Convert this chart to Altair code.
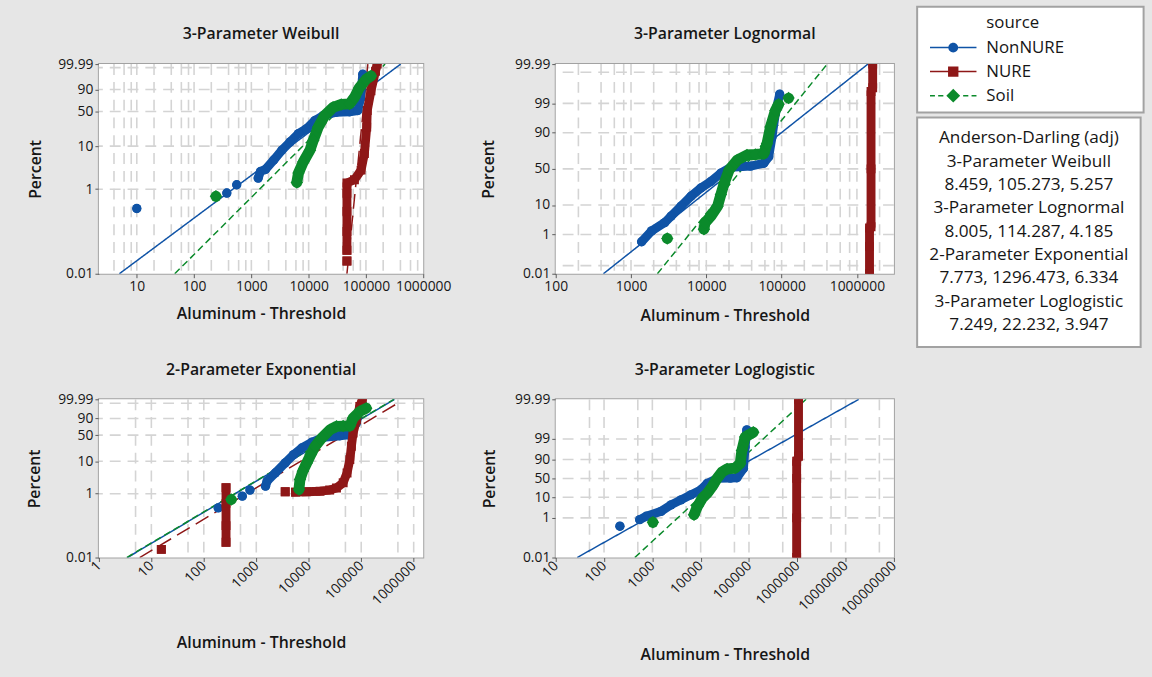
import math
from statistics import NormalDist

import altair as alt
import pandas as pd

FONT = "Open Sans"
TEXT = "#161616"
GRID = "#d4d4d4"
FRAME = "#a2a2a2"

SOURCES = ["NonNURE", "NURE", "Soil"]
SOURCE_COLORS = ["#0f53a6", "#8e1717", "#0b8a2b"]
FIT_DASHES = [[1, 0], [15, 7], [7, 4]]
COLOR_OF = dict(zip(SOURCES, SOURCE_COLORS))
DASH_OF = dict(zip(SOURCES, FIT_DASHES))
MARKERS = {"NonNURE": ("circle", 90), "NURE": ("square", 81), "Soil": ("diamond", 160)}
BAND = {"NonNURE": (9, "round"), "NURE": (9, "square"), "Soil": (11, "round")}

# legend rows: a heading row followed by one row per source
LEGEND_ROWS = ["source"] + SOURCES
LEGEND_COLORS = ["transparent"] + SOURCE_COLORS
# legend glyphs (unit = 5 px): line pieces with the marker in the middle;
# the trailing move-to sets the width of the legend box
_REACH = "M36.7,0"
LEGEND_GLYPHS = [
    _REACH,
    "M-4.7,-0.15H-1V0.15H-4.7Z M1,-0.15H4.7V0.15H1Z "
    "M1,0A1,1,0,1,1,-1,0A1,1,0,1,1,1,0Z " + _REACH,
    "M-4.7,-0.15H-1.05V0.15H-4.7Z M1.05,-0.15H4.7V0.15H1.05Z "
    "M-1.05,-1.05H1.05V1.05H-1.05Z " + _REACH,
    "M-4.7,-0.15H-3.7V0.15H-4.7Z M-3.05,-0.15H-2.0V0.15H-3.05Z "
    "M2.0,-0.15H3.05V0.15H2.0Z M3.7,-0.15H4.7V0.15H3.7Z "
    "M0,-1.4L1.4,0L0,1.4L-1.4,0Z " + _REACH,
]

AD_LINES = [
    "Anderson-Darling (adj)",
    "3-Parameter Weibull", "8.459, 105.273, 5.257",
    "3-Parameter Lognormal", "8.005, 114.287, 4.185",
    "2-Parameter Exponential", "7.773, 1296.473, 6.334",
    "3-Parameter Loglogistic", "7.249, 22.232, 3.947",
]

PCT_TICKS_A = [0.01, 1, 10, 50, 90, 99.99]
PCT_TICKS_B = [0.01, 1, 10, 50, 90, 99, 99.99]

# (value, percent, run) -- points of one run are drawn as a continuous band
W_NONNURE = [
    (10, 0.35, 0), (373, 0.81, 1), (555, 1.27, 2),
    (1315, 1.82, 3), (1442, 2.6, 3), (1758, 2.9, 3), (2455, 4.8, 3), (3420, 8.1, 3),
    (4755, 12.4, 3), (6640, 18.8, 3), (9240, 23.9, 3), (12860, 34.7, 3), (17950, 42.8, 3),
    (30470, 48.7, 3), (51660, 49.6, 3), (72100, 51.9, 3), (80000, 75, 3), (88100, 99.5, 3),
]
W_NURE = [
    (46600, 0.02, 0),
    (46600, 0.036, 1), (46600, 0.1, 1), (46600, 0.3, 1), (46600, 0.8, 1), (46600, 1.4, 1),
    (63000, 1.67, 1), (82300, 2.8, 1), (94000, 6.8, 1), (103300, 25.7, 1), (105500, 51.9, 1),
    (122500, 88.4, 1), (147000, 99.8, 1), (157000, 99.99, 1),
]
W_SOIL = [
    (241, 0.68, 0),
    (6210, 1.44, 1), (6640, 2.4, 1), (8100, 4.4, 1), (10550, 8.1, 1), (12060, 13.5, 1),
    (14700, 25.7, 1), (19100, 42.8, 1), (26700, 58.2, 1), (37100, 64, 1), (51700, 65, 1),
    (63100, 77.7, 1), (77000, 92.3, 1), (100500, 98.2, 1), (122500, 99.2, 1),
]

L_NONNURE = [
    (1383, 0.49, 0), (1870, 1.39, 0), (2800, 2.84, 0), (3410, 4.7, 0), (4620, 9.3, 0),
    (6260, 16.6, 0), (8470, 24.9, 0), (11500, 32.8, 0), (15600, 44, 0), (21100, 52.4, 0),
    (38700, 54, 0), (58000, 57.9, 0), (67400, 66.7, 0), (74600, 87.2, 0), (82600, 97.5, 0),
    (94200, 99.6, 0),
]
L_NURE = [
    (1470000, 0.01, 0), (1470000, 0.3, 0), (1470000, 1.8, 0), (1540000, 2.0, 0),
    (1540000, 50, 0), (1540000, 99.7, 0), (1620000, 99.8, 0), (1620000, 99.99, 0),
]
L_SOIL = [
    (3030, 0.68, 0),
    (9300, 1.62, 1), (9600, 2.8, 1), (11500, 4.7, 1), (14100, 9.3, 1), (15600, 18.1, 1),
    (17300, 30.8, 1), (20100, 48.6, 1), (25800, 62.4, 1), (34700, 68.9, 1), (44700, 69.5, 1),
    (58000, 70.5, 1), (64000, 81.6, 1), (71000, 93.1, 1), (82600, 98.1, 1), (91200, 98.9, 1),
    (123600, 99.4, 2),
]

E_NONNURE = [
    (188, 0.36, 0), (541, 0.84, 1), (757, 1.3, 2),
    (1500, 1.72, 3), (1608, 2.46, 3), (2305, 4.4, 3), (3560, 8.9, 3), (5140, 15.6, 3),
    (7380, 24, 3), (11400, 33.8, 3), (19000, 44.6, 3), (39000, 48.5, 3), (56000, 51, 3),
    (80000, 80, 3), (95000, 99.5, 3),
]
E_NURE = [
    (15.5, 0.018, 0),
    (265, 0.03, 1), (265, 0.1, 1), (265, 0.5, 1), (265, 1.53, 1),
    (3560, 1.15, 2),
    (5600, 1.12, 3), (9000, 1.15, 3), (16400, 1.2, 3), (25000, 1.3, 3), (33800, 1.5, 3),
    (45300, 2.2, 3), (53700, 4.4, 3), (60700, 11.1, 3), (65000, 26.6, 3), (70000, 55.3, 3),
    (81000, 87.7, 3), (93800, 99.6, 3), (105000, 99.99, 3),
]
E_SOIL = [
    (334, 0.66, 0),
    (6500, 1.36, 1), (6800, 2.76, 1), (7710, 5, 1), (9170, 8.9, 1), (10900, 15.6, 1),
    (13200, 26.6, 1), (17600, 43, 1), (25400, 64, 1), (33800, 72.9, 1), (45300, 73.5, 1),
    (60700, 74, 1), (70000, 90.7, 1), (93800, 97.8, 1), (124800, 99.2, 1),
]

G_NONNURE = [
    (213, 0.383, 0),
    (547, 0.816, 1), (750, 1.2, 1), (1520, 2.12, 1), (2430, 4.4, 1), (3900, 7.6, 1),
    (6240, 12.8, 1), (10000, 20.6, 1), (13700, 36, 1), (21900, 50, 1), (41100, 51, 1),
    (56400, 52, 1), (76900, 76, 1), (83200, 97.5, 1), (90100, 99.65, 1),
]
G_NURE = [
    (970000, 0.01, 0), (970000, 1, 0), (970000, 50, 0), (970000, 88, 0),
    (1060000, 93, 0), (1060000, 99.99, 0),
]
G_SOIL = [
    (1028, 0.6, 0),
    (7290, 1.44, 1), (8570, 3.7, 1), (10800, 9.1, 1), (13700, 15.1, 1), (17300, 27.8, 1),
    (21900, 50, 1), (27800, 68, 1), (35200, 75, 1), (52000, 77, 1), (65800, 85, 1),
    (71300, 96.3, 1), (83200, 99.2, 1), (123000, 99.54, 1),
]

# fitted lines: (source, start value, start percent, end value, end percent)
W_FITS = [("NonNURE", 4.97, 0.01, 404000, 99.99), ("NURE", 46600, 0.01, 108000, 99.99),
          ("Soil", 46, 0.01, 216000, 99.99)]
L_FITS = [("NonNURE", 430, 0.01, 1400000, 99.99), ("NURE", 1450000, 0.01, 1600000, 99.99),
          ("Soil", 2240, 0.01, 403000, 99.99)]
E_FITS = [("NonNURE", 3.5, 0.01, 430000, 99.99), ("NURE", 6.0, 0.01, 530000, 99.94),
          ("Soil", 3.4, 0.01, 420000, 99.99)]
G_FITS = [("NonNURE", 27.8, 0.01, 18700000, 99.99), ("NURE", 960000, 0.01, 1080000, 99.99),
          ("Soil", 433, 0.01, 1520000, 99.99)]


# probability-paper transforms of the percent axis
def weibull_paper(p):
    return math.log10(-math.log(1.0 - p / 100.0))


_NORMAL = NormalDist()


def normal_paper(p):
    return _NORMAL.inv_cdf(p / 100.0)


def logistic_paper(p):
    q = p / 100.0
    return math.log(q / (1.0 - q))


def grid_values(lo, hi, mults):
    vals = []
    for k in range(-1, 9):
        for m in mults:
            v = m * 10 ** k
            if lo * 1.02 < v < hi * 0.98:
                vals.append(v)
    return vals


def label_expr(ticks, tf):
    parts = [f"abs(datum.value - ({tf(p):.6f})) < 0.0001 ? '{p:g}'" for p in ticks]
    return " : ".join(parts) + " : ''"


def panel(cfg, extra=()):
    tf = cfg["tf"]
    x_lo, x_hi = cfg["xdomain"]
    y_lo, y_hi = tf(0.01), tf(99.99)
    xs = alt.Scale(type="log", domain=[x_lo, x_hi], nice=False)
    ys = alt.Scale(domain=[y_lo, y_hi], nice=False, zero=False)
    rot = cfg["rotate"]

    xaxis = alt.Axis(
        values=cfg["xticks"], format="d", grid=False, domain=False,
        tickSize=4, tickColor="#5a5a5a", tickWidth=1,
        labelFont=FONT, labelFontSize=14, labelColor=TEXT, labelPadding=2,
        labelFlush=False, labelOverlap=False,
        labelAngle=315 if rot else 0, labelAlign="right" if rot else "center",
        labelBaseline="middle" if rot else "top",
        title="Aluminum - Threshold", titleFont=FONT, titleFontSize=16, titleFontWeight=600,
        titleColor=TEXT, titleY=cfg["xtitle_y"], titleBaseline="middle",
    )
    yaxis = alt.Axis(
        values=[tf(p) for p in cfg["yticks"]], labelExpr=label_expr(cfg["yticks"], tf),
        grid=False, domain=False, tickSize=4, tickColor="#5a5a5a", tickWidth=1,
        labelFont=FONT, labelFontSize=14, labelColor=TEXT, labelPadding=2,
        labelFlush=False, labelOverlap=False,
        title="Percent", titleFont=FONT, titleFontSize=16, titleFontWeight=600,
        titleColor=TEXT, titleX=cfg["ytitle_x"], titleBaseline="middle",
    )

    def xy(xfield, yfield):
        return dict(x=alt.X(xfield, scale=xs, axis=xaxis), y=alt.Y(yfield, scale=ys, axis=yaxis))

    # white plotting area spanning the full scale domains
    area = alt.Chart(pd.DataFrame({"x0": [x_lo], "x1": [x_hi], "y0": [y_lo], "y1": [y_hi]})).mark_rect(
        color="white"
    ).encode(x2="x1:Q", y2="y1:Q", **xy("x0:Q", "y0:Q"))

    gx = grid_values(x_lo, x_hi, cfg["xgrid"])
    vgrid = alt.Chart(pd.DataFrame({"gx": gx})).mark_rule(
        color=GRID, strokeWidth=1.6, strokeDash=[11, 7]
    ).encode(x=alt.X("gx:Q", scale=xs, axis=xaxis))
    hgrid = alt.Chart(pd.DataFrame({"gy": [tf(p) for p in cfg["ygrid"]]})).mark_rule(
        color=GRID, strokeWidth=1.6, strokeDash=[11, 7]
    ).encode(y=alt.Y("gy:Q", scale=ys, axis=yaxis))

    layers = [area, vgrid, hgrid]
    for src, x1, p1, x2, p2 in cfg["fits"]:
        df = pd.DataFrame({"x": [x1, x2], "pct": [p1, p2], "ty": [tf(p1), tf(p2)]})
        layers.append(
            alt.Chart(df).mark_line(
                color=COLOR_OF[src], strokeDash=DASH_OF[src], strokeWidth=1.5, clip=True
            ).encode(order=alt.Order("x:Q"), **xy("x:Q", "ty:Q"))
        )

    for src in SOURCES:
        rows = [{"x": x, "pct": p, "ty": tf(p), "run": r} for x, p, r in cfg["points"][src]]
        df = pd.DataFrame(rows)
        width, cap = BAND[src]
        shape, size = MARKERS[src]
        band = alt.Chart(df).mark_line(
            color=COLOR_OF[src], strokeWidth=width, strokeCap=cap, strokeJoin="round", clip=True
        ).encode(detail="run:N", order=alt.Order("pct:Q"), **xy("x:Q", "ty:Q"))
        dots = alt.Chart(df).mark_point(
            color=COLOR_OF[src], shape=shape, size=size, filled=True, opacity=1, clip=True
        ).encode(**xy("x:Q", "ty:Q"))
        layers += [band, dots]
    layers += list(extra)

    return alt.layer(*layers).properties(
        width=cfg["width"], height=cfg["height"],
        title=alt.TitleParams(
            text=cfg["title"], font=FONT, fontSize=16, fontWeight=600, color=TEXT,
            anchor="middle", offset=15, frame="group",
        ),
    )


source_legend = alt.Legend(
    title=None, orient="none", legendX=827.5, legendY=-58,
    padding=8.5, fillColor="white", strokeColor=FRAME,
    labelFont=FONT, labelFontSize=17, labelColor=TEXT, labelLimit=400, labelOffset=25,
    symbolSize=100, symbolOffset=19.5, symbolStrokeWidth=0, symbolOpacity=1, rowPadding=6.3,
)
# the goodness-of-fit box: its lines form the centred, multi-line legend title
ad_legend = alt.Legend(
    title=AD_LINES, orient="none", legendX=827.5, legendY=54,
    padding=12, fillColor="white", strokeColor=FRAME,
    titleFont=FONT, titleFontSize=17.4, titleFontWeight="normal", titleColor=TEXT,
    titleAnchor="middle", titleAlign="center", titleLineHeight=23.6, titlePadding=0,
    titleLimit=400, labelExpr="''", labelFontSize=1, symbolSize=0, symbolOpacity=0,
    rowPadding=0,
)

source_key = alt.Chart(pd.DataFrame({"row": LEGEND_ROWS})).transform_filter("false").mark_point(
    filled=True, opacity=1
).encode(
    color=alt.Color("row:N", scale=alt.Scale(domain=LEGEND_ROWS, range=LEGEND_COLORS),
                    legend=source_legend),
    shape=alt.Shape("row:N", scale=alt.Scale(domain=LEGEND_ROWS, range=LEGEND_GLYPHS),
                    legend=source_legend),
)
ad_key = alt.Chart(pd.DataFrame({"stat": ["AD"]})).transform_filter("false").mark_point(
    filled=True, opacity=1
).encode(
    strokeDash=alt.StrokeDash("stat:N", scale=alt.Scale(domain=["AD"], range=[[1, 0]]),
                              legend=ad_legend),
)

PANELS = [
    dict(title="3-Parameter Weibull", tf=weibull_paper, xdomain=[2.18, 1e6], width=328, height=212,
         xgrid=[2, 4, 6, 8, 10], ygrid=[1, 10, 50, 90, 99.95], yticks=PCT_TICKS_A,
         xticks=[10, 100, 1000, 10000, 100000, 1000000], rotate=False,
         points={"NonNURE": W_NONNURE, "NURE": W_NURE, "Soil": W_SOIL}, fits=W_FITS,
         xtitle_y=40, ytitle_x=-64),
    dict(title="3-Parameter Lognormal", tf=normal_paper, xdomain=[100, 3.1e6], width=342, height=212,
         xgrid=[2, 4, 6, 8, 10], ygrid=[0.03, 1, 10, 50, 90, 99, 99.97], yticks=PCT_TICKS_B,
         xticks=[100, 1000, 10000, 100000, 1000000], rotate=False,
         points={"NonNURE": L_NONNURE, "NURE": L_NURE, "Soil": L_SOIL}, fits=L_FITS,
         xtitle_y=42, ytitle_x=-68),
    dict(title="2-Parameter Exponential", tf=weibull_paper, xdomain=[1, 1.52e6], width=328, height=160,
         xgrid=[5, 10], ygrid=[1, 10, 50, 90, 99.9], yticks=PCT_TICKS_A,
         xticks=[1, 10, 100, 1000, 10000, 100000, 1000000], rotate=True,
         points={"NonNURE": E_NONNURE, "NURE": E_NURE, "Soil": E_SOIL}, fits=E_FITS,
         xtitle_y=86, ytitle_x=-65),
    dict(title="3-Parameter Loglogistic", tf=logistic_paper, xdomain=[10, 1e8], width=342, height=160,
         xgrid=[5, 10], ygrid=[1, 10, 50, 90, 99], yticks=PCT_TICKS_B,
         xticks=[10, 100, 1000, 10000, 100000, 1000000, 10000000, 100000000], rotate=True,
         points={"NonNURE": G_NONNURE, "NURE": G_NURE, "Soil": G_SOIL}, fits=G_FITS,
         xtitle_y=98, ytitle_x=-67),
]

p1 = panel(PANELS[0], extra=(source_key, ad_key))
p2 = panel(PANELS[1])
p3 = panel(PANELS[2])
p4 = panel(PANELS[3])

chart = alt.concat(
    p1, p2, p3, p4, columns=2, bounds="flush",
    spacing=alt.RowColnumber(row=127, column=134),
).properties(
    background="#e6e6e6",
    padding={"left": 26, "top": 2, "right": 7, "bottom": 10},
).configure_view(
    stroke=FRAME, strokeWidth=2, fill="white",
).configure_legend(strokeWidth=2)

chart.save("out.html", embed_options={"renderer": "svg", "actions": False})
